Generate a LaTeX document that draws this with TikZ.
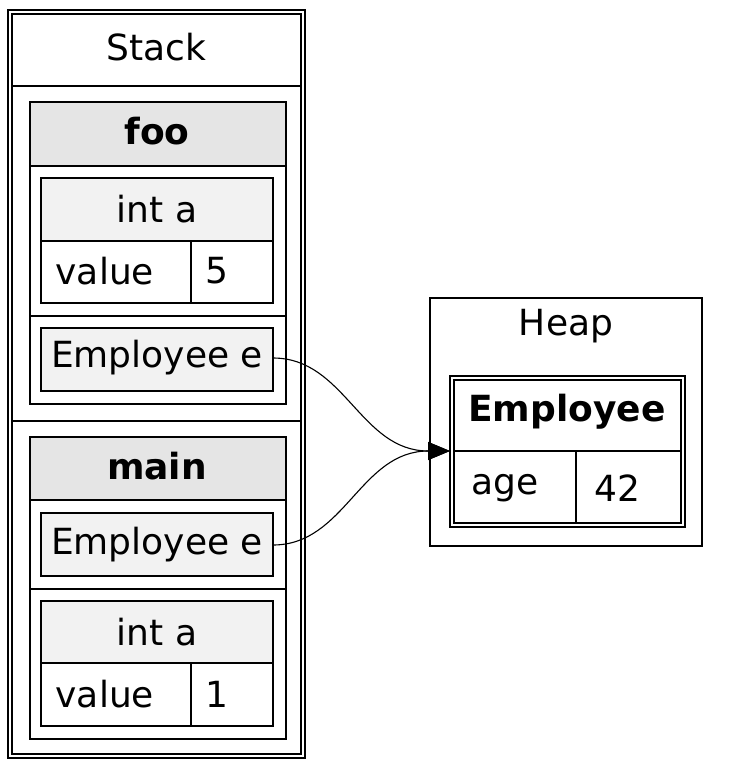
\documentclass[tikz,border=0pt]{standalone}
\usepackage{fontspec}
\setmainfont{DejaVu Sans}
\usetikzlibrary{arrows.meta}
\definecolor{hd}{HTML}{E5E5E5}
\definecolor{cl}{HTML}{F2F2F2}
\newcommand{\bigf}{\fontsize{36pt}{42pt}\selectfont}
\begin{document}
\begin{tikzpicture}[x=1pt,y=-1pt,line width=1.3pt,
  txt/.style={inner sep=0pt,font=\bigf},
  lt/.style={txt,anchor=west},
  bt/.style={inner sep=0pt,font=\bigf\bfseries}]
\useasboundingbox (0,0) rectangle (733,768);
% Stack
\draw (8,10) rectangle (305,758);
\draw (12,14) rectangle (301,754);
\draw (12,86) -- (301,86);
\draw (12,421) -- (301,421);
\node[txt] (stack) at (156,47) {Stack};
% foo
\draw[fill=hd] (30,102) rectangle (286,166);
\draw (30,102) rectangle (286,404);
\draw (30,316) -- (286,316);
\node[bt] (foo) at (157,131) {foo};
\draw[fill=cl] (41,178) rectangle (273,241);
\draw (41,241) rectangle (273,303);
\draw (191,241) -- (191,303);
\node[txt] (ia1) at (157,209) {int a};
\node[lt] (v1) at (55,271) {value};
\node[lt] (n5) at (205,271) {5};
\draw[fill=cl] (41,328) rectangle (273,391);
\node[txt] (e1) at (157,358) {Employee e};
\coordinate (p1) at (273,358);
% main
\draw[fill=hd] (30,437) rectangle (286,500);
\draw (30,437) rectangle (286,739);
\draw (30,589) -- (286,589);
\node[bt] (main) at (157,466) {main};
\draw[fill=cl] (41,513) rectangle (273,576);
\node[txt] (e2) at (157,545) {Employee e};
\coordinate (p2) at (273,545);
\draw[fill=cl] (41,601) rectangle (273,663);
\draw (41,663) rectangle (273,726);
\draw (191,663) -- (191,726);
\node[txt] (ia2) at (157,632) {int a};
\node[lt] (v2) at (55,694) {value};
\node[lt] (n1) at (205,694) {1};
% Heap
\draw (430,298) rectangle (702,546);
\node[txt] (heap) at (566,326) {Heap};
\draw (450,376) rectangle (685,527);
\draw (454,380) rectangle (681,523);
\draw (454,451) -- (681,451);
\draw (576,451) -- (576,523);
\node[bt] (emp) at (567,412) {Employee};
\node[lt] (age) at (471,488) {age};
\node[lt] (n42) at (594,488) {42};
\coordinate (t) at (450,451);
\draw[line width=1.1pt,-{Triangle[length=22pt,width=18pt]}] (p1) .. controls (345,358) and (360,451) .. (t);
\draw[line width=1.1pt,-{Triangle[length=22pt,width=18pt]}] (p2) .. controls (345,545) and (360,451) .. (t);
\end{tikzpicture}
\end{document}
